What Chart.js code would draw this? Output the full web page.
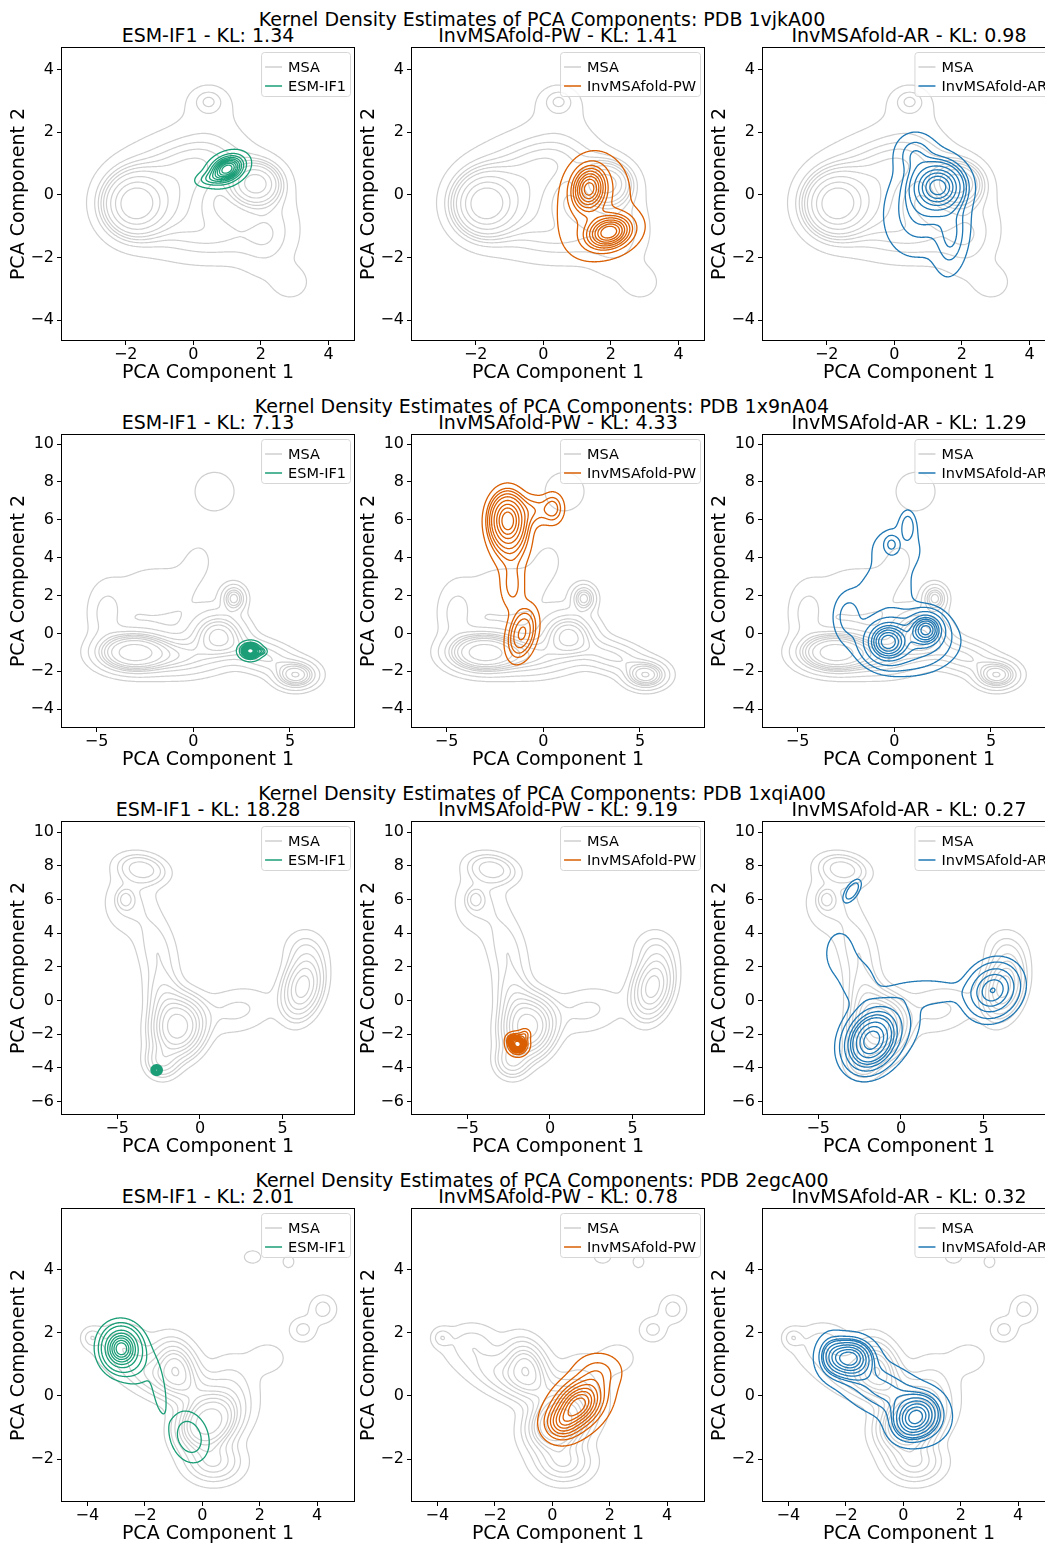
<!DOCTYPE html>
<html>
<head>
<meta charset="utf-8">
<script src="https://cdn.jsdelivr.net/npm/chart.js@4.4.1/dist/chart.umd.min.js"></script>
<style>
  html, body { margin: 0; padding: 0; background: #fff; overflow: hidden; }
  body { width: 1045px; height: 1544px; position: relative; font-family: "DejaVu Sans", sans-serif; }
  canvas { position: absolute; }
  .title { position: absolute; font-size: 19px; line-height: 19px; height: 19px; white-space: nowrap; color: #000; transform: translateX(-50%); }
</style>
</head>
<body>
<script>
const proteins = ['1vjkA00', '1x9nA04', '1xqiA00', '2egcA00'];
const models = ['ESM-IF1', 'InvMSAfold-PW', 'InvMSAfold-AR'];
const modelColors = ['#1b9e77', '#d95f02', '#1f78b4'];
const klScores = [
  [1.34, 1.41, 0.98],
  [7.13, 4.33, 1.29],
  [18.28, 9.19, 0.27],
  [2.01, 0.78, 0.32]
];
const xLimits = [[-3.885, 4.755], [-6.79, 8.31], [-8.34, 9.31], [-4.88, 5.28]];
const yLimits = [[-4.636, 4.682], [-4.94, 10.48], [-6.75, 10.6], [-3.33, 5.92]];
const xTicks = [[-2, 0, 2, 4], [-5, 0, 5], [-5, 0, 5], [-4, -2, 0, 2, 4]];
const yTicks = [[-4, -2, 0, 2, 4], [-4, -2, 0, 2, 4, 6, 8, 10], [-6, -4, -2, 0, 2, 4, 6, 8, 10], [-2, 0, 2, 4]];
// iso-proportion levels of the kde contours
const isoLevels = [0.05, 0.156, 0.261, 0.367, 0.472, 0.578, 0.683, 0.789, 0.894];

// density blobs: [centre x, centre y, spread x, spread y, correlation, weight]
const msa1vjk = [
  [-1.75, -0.3, 0.55, 0.6, 0, 0.24],
  [-0.7, 0.0, 1.0, 0.95, 0, 0.22],
  [1.85, 0.35, 0.45, 0.42, 0, 0.11],
  [0.4, 1.1, 0.9, 0.6, 0, 0.08],
  [2.3, -1.2, 0.55, 1.0, 0.2, 0.05],
  [0.8, -1.3, 1.1, 0.6, 0, 0.08],
  [0.5, 2.6, 0.7, 0.6, 0, 0.02],
  [0.45, 3.0, 0.32, 0.28, 0, 0.01],
  [2.9, -2.8, 0.35, 0.35, 0, 0.01]
];
const esm1vjk = [[1.0, 0.82, 0.3, 0.26, 0.3, 0.9], [0.45, 0.5, 0.25, 0.15, 0.2, 0.08]];
const pw1vjk = [[1.35, 0.2, 0.3, 0.42, 0.1, 0.36], [1.95, -1.2, 0.4, 0.32, 0.2, 0.4], [1.5, -0.4, 0.65, 0.95, 0.25, 0.24]];
const ar1vjk = [[1.3, 0.25, 0.38, 0.38, 0, 0.5], [1.7, -1.4, 0.3, 0.7, 0.2, 0.08], [0.9, -0.3, 0.65, 0.9, 0.2, 0.3], [0.6, 1.3, 0.35, 0.4, 0, 0.05]];

const msa1x9n = [
  [-3.1, -1.0, 1.0, 0.55, 0, 0.30],
  [1.3, -0.1, 0.8, 0.7, 0, 0.14],
  [2.1, 1.85, 0.35, 0.4, 0, 0.03],
  [5.3, -2.2, 0.6, 0.4, 0, 0.07],
  [3.5, -1.2, 1.2, 0.6, -0.5, 0.08],
  [-0.8, -1.2, 1.3, 0.6, 0, 0.12],
  [-2.0, 2.2, 1.6, 1.1, 0, 0.045],
  [1.1, 7.5, 0.8, 0.8, 0, 0.02],
  [0.3, 4.0, 0.8, 1.0, 0, 0.012],
  [-4.5, 1.0, 0.6, 1.0, 0, 0.03]
];
const esm1x9n = [[2.95, -0.92, 0.3, 0.24, 0, 0.95], [3.55, -0.95, 0.15, 0.12, 0, 0.05]];
const pw1x9n = [
  [-1.85, 6.0, 0.5, 0.75, 0, 0.55],
  [-1.7, 4.8, 0.6, 0.9, 0, 0.12],
  [0.5, 6.6, 0.35, 0.5, 0, 0.04],
  [-1.1, 0.0, 0.45, 0.8, 0.3, 0.15],
  [-1.6, 2.5, 0.4, 0.8, 0, 0.05],
  [-0.5, 6.5, 0.5, 0.5, 0, 0.04]
];
const ar1x9n = [
  [-0.35, -0.45, 0.55, 0.55, 0, 0.3],
  [1.65, 0.2, 0.45, 0.45, 0, 0.2],
  [0.6, -0.4, 1.3, 0.85, 0, 0.3],
  [0.1, 4.4, 1.1, 1.0, 0, 0.05],
  [-0.5, 2.2, 1.0, 0.8, 0, 0.04],
  [-2.4, 0.9, 0.5, 0.8, 0, 0.03],
  [-0.15, 4.7, 0.2, 0.25, 0, 0.008],
  [0.7, 5.7, 0.25, 0.5, 0, 0.01]
];

const msa1xqi = [
  [-1.3, -1.6, 0.85, 0.95, 0.1, 0.36],
  [-2.0, -0.3, 0.7, 1.2, -0.3, 0.08],
  [6.2, 0.8, 0.7, 1.05, 0.25, 0.18],
  [-3.5, 7.8, 0.9, 0.55, -0.2, 0.05],
  [-4.5, 6.0, 0.3, 0.35, 0, 0.008],
  [-4.3, 5.8, 1.0, 1.2, 0, 0.045],
  [-2.6, 3.0, 0.8, 1.4, -0.3, 0.05],
  [2.2, -0.6, 1.5, 0.9, 0.2, 0.05],
  [-2.3, -3.6, 0.6, 0.6, 0, 0.04],
  [6.3, 3.0, 0.8, 0.8, 0, 0.025]
];
const esm1xqi = [[-2.62, -4.14, 0.14, 0.13, 0, 1]];
const pw1xqi = [[-1.95, -2.6, 0.33, 0.33, 0, 0.88], [-1.5, -2.0, 0.2, 0.2, 0, 0.06], [-2.35, -2.3, 0.2, 0.2, 0, 0.06]];
const ar1xqi = [
  [-1.8, -2.4, 0.75, 0.85, 0.2, 0.45],
  [5.55, 0.6, 0.85, 0.85, 0.15, 0.2],
  [-2.95, 6.5, 0.3, 0.38, 0.6, 0.008],
  [-3.7, 2.8, 0.8, 1.2, 0, 0.025],
  [1.8, 0.5, 1.4, 0.5, 0, 0.025],
  [-1.2, -1.8, 1.2, 1.2, 0.3, 0.15],
  [-2.5, 1.0, 0.7, 0.9, 0, 0.02]
];

const msa2egc = [
  [0.2, -0.85, 0.6, 0.5, 0.2, 0.30],
  [-0.9, 1.0, 0.45, 0.5, -0.2, 0.10],
  [-1.2, 0.5, 1.1, 0.55, -0.6, 0.15],
  [-3.85, 1.85, 0.22, 0.2, 0, 0.006],
  [-2.8, 1.7, 0.6, 0.4, 0, 0.03],
  [4.2, 2.75, 0.3, 0.28, 0, 0.012],
  [3.5, 2.1, 0.3, 0.25, 0, 0.01],
  [2.3, 1.2, 0.45, 0.35, 0, 0.012],
  [1.75, 4.4, 0.22, 0.15, 0, 0.003],
  [3.0, 4.25, 0.16, 0.16, 0, 0.002],
  [0.4, -2.1, 0.6, 0.4, 0, 0.08],
  [1.0, 0.2, 0.6, 0.7, 0, 0.06]
];
const esm2egc = [[-2.82, 1.5, 0.32, 0.33, 0, 0.6], [-2.6, 1.3, 0.5, 0.5, -0.3, 0.14], [-1.5, 0.2, 0.18, 0.55, -0.5, 0.022], [-0.45, -1.3, 0.38, 0.45, -0.2, 0.1]];
const pw2egc = [[0.9, -0.3, 0.55, 0.5, 0.35, 0.8], [1.6, 0.8, 0.5, 0.35, 0, 0.1], [0.3, -0.9, 0.35, 0.3, 0, 0.1]];
const ar2egc = [[-1.85, 1.2, 0.45, 0.35, 0, 0.3], [0.4, -0.7, 0.45, 0.4, 0.2, 0.3], [-0.7, 0.2, 1.0, 0.6, -0.5, 0.28], [-2.5, 1.3, 0.3, 0.4, 0, 0.06], [0.9, -0.8, 0.5, 0.5, 0, 0.06]];

const msaBlobs = [msa1vjk, msa1x9n, msa1xqi, msa2egc];
const modelBlobs = [
  [esm1vjk, pw1vjk, ar1vjk],
  [esm1x9n, pw1x9n, ar1x9n],
  [esm1xqi, pw1xqi, ar1xqi],
  [esm2egc, pw2egc, ar2egc]
];

const colLeft = [62, 412, 763];
const rowTop = [48, 435, 822, 1209];
const FONT = '"DejaVu Sans"';
Chart.defaults.font.family = FONT;

function density(blobs, x, y) {
  let s = 0;
  for (const [mx, my, sx, sy, r, w] of blobs) {
    const dx = (x - mx) / sx, dy = (y - my) / sy, q = 1 - r * r;
    s += w / (sx * sy * Math.sqrt(q)) * Math.exp(-(dx * dx - 2 * r * dx * dy + dy * dy) / (2 * q));
  }
  return s;
}

// marching squares: which cell edges a contour crosses, per corner code
// edges 0 bottom, 1 right, 2 top, 3 left
const CASES = [[], [[3, 0]], [[0, 1]], [[3, 1]], [[1, 2]], [[3, 0], [1, 2]], [[0, 2]], [[3, 2]],
  [[2, 3]], [[0, 2]], [[0, 1], [2, 3]], [[1, 2]], [[1, 3]], [[0, 1]], [[0, 3]], []];

function traceLevel(g, xs, ys, lev, out) {
  const N = xs.length - 1;
  const pts = new Map(), adj = new Map(), segs = [];
  const edgePoint = (id, ax, ay, av, bx, by, bv) => {
    if (!pts.has(id)) {
      const t = (lev - av) / (bv - av);
      pts.set(id, { x: ax + (bx - ax) * t, y: ay + (by - ay) * t });
    }
    return id;
  };
  for (let j = 0; j < N; j++) {
    for (let i = 0; i < N; i++) {
      const a = g[j][i], b = g[j][i + 1], c = g[j + 1][i + 1], d = g[j + 1][i];
      const code = (a > lev ? 1 : 0) | (b > lev ? 2 : 0) | (c > lev ? 4 : 0) | (d > lev ? 8 : 0);
      if (code === 0 || code === 15) continue;
      const E = [
        () => edgePoint('h' + i + '_' + j, xs[i], ys[j], a, xs[i + 1], ys[j], b),
        () => edgePoint('v' + (i + 1) + '_' + j, xs[i + 1], ys[j], b, xs[i + 1], ys[j + 1], c),
        () => edgePoint('h' + i + '_' + (j + 1), xs[i], ys[j + 1], d, xs[i + 1], ys[j + 1], c),
        () => edgePoint('v' + i + '_' + j, xs[i], ys[j], a, xs[i], ys[j + 1], d)
      ];
      for (const [p, q] of CASES[code]) segs.push([E[p](), E[q]()]);
    }
  }
  segs.forEach(([p, q], k) => {
    for (const id of [p, q]) {
      if (!adj.has(id)) adj.set(id, []);
      adj.get(id).push(k);
    }
  });
  const used = new Array(segs.length).fill(false);
  const follow = (cur, line, atEnd) => {
    for (;;) {
      const nk = adj.get(cur).find(s => !used[s]);
      if (nk === undefined) break;
      used[nk] = true;
      cur = segs[nk][0] === cur ? segs[nk][1] : segs[nk][0];
      if (atEnd) line.push(cur); else line.unshift(cur);
    }
  };
  for (let k = 0; k < segs.length; k++) {
    if (used[k]) continue;
    used[k] = true;
    const line = [segs[k][0], segs[k][1]];
    follow(segs[k][1], line, true);
    follow(segs[k][0], line, false);
    line.forEach(id => out.push(pts.get(id)));
    out.push({ x: null, y: null });
  }
}

function contourPoints(blobs) {
  const N = 170;
  let x0 = Infinity, x1 = -Infinity, y0 = Infinity, y1 = -Infinity;
  blobs.forEach(([mx, my, sx, sy]) => {
    x0 = Math.min(x0, mx - 4 * sx); x1 = Math.max(x1, mx + 4 * sx);
    y0 = Math.min(y0, my - 4 * sy); y1 = Math.max(y1, my + 4 * sy);
  });
  const xs = [], ys = [];
  for (let i = 0; i <= N; i++) {
    xs.push(x0 + (x1 - x0) * i / N);
    ys.push(y0 + (y1 - y0) * i / N);
  }
  const g = ys.map(y => xs.map(x => density(blobs, x, y)));
  const sorted = g.flat().sort((a, b) => b - a);
  const total = sorted.reduce((a, b) => a + b, 0);
  const cum = [];
  let acc = 0;
  for (const v of sorted) { acc += v; cum.push(acc / total); }
  const out = [];
  isoLevels.forEach(p => {
    const idx = cum.findIndex(c => c >= 1 - p);
    traceLevel(g, xs, ys, sorted[Math.max(0, idx)], out);
  });
  return out;
}

const fmt = v => (v < 0 ? '\u2212' + Math.abs(v) : String(v));

const frame = {
  id: 'frame',
  afterDatasetsDraw(chart) {
    const { ctx, chartArea: a } = chart;
    ctx.save();
    ctx.strokeStyle = '#000';
    ctx.lineWidth = 1;
    ctx.strokeRect(a.left - 0.5, a.top - 0.5, a.right - a.left + 1, a.bottom - a.top + 1);
    ctx.restore();
  }
};

const legendBox = {
  id: 'legendBox',
  afterDraw(chart) {
    const { ctx, chartArea: a } = chart;
    const items = chart.data.datasets;
    ctx.save();
    ctx.font = '14.5px ' + FONT;
    const textW = Math.max(...items.map(d => ctx.measureText(d.label).width));
    const w = 4 + 17 + 6 + textW + 4, h = 44;
    const x = a.right - 4 - w, y = a.top + 4;
    ctx.beginPath();
    ctx.roundRect(x + 0.5, y + 0.5, w, h, 3);
    ctx.fillStyle = 'rgba(255,255,255,0.8)';
    ctx.fill();
    ctx.strokeStyle = '#d6d6d6';
    ctx.lineWidth = 1;
    ctx.stroke();
    items.forEach((d, i) => {
      const cy = y + 15 + i * 19;
      ctx.beginPath();
      ctx.moveTo(x + 4, cy);
      ctx.lineTo(x + 21, cy);
      ctx.strokeStyle = d.borderColor;
      ctx.lineWidth = 1.5;
      ctx.stroke();
      ctx.fillStyle = '#000';
      ctx.textBaseline = 'middle';
      ctx.fillText(d.label, x + 27, cy + 1);
    });
    ctx.restore();
  }
};

function addText(text, cx, top) {
  const el = document.createElement('div');
  el.className = 'title';
  el.textContent = text;
  el.style.left = cx + 'px';
  el.style.top = top + 'px';
  document.body.appendChild(el);
}

function axis(r, horizontal) {
  return {
    type: 'linear',
    min: horizontal ? xLimits[r][0] : yLimits[r][0],
    max: horizontal ? xLimits[r][1] : yLimits[r][1],
    afterBuildTicks: s => { s.ticks = (horizontal ? xTicks[r] : yTicks[r]).map(v => ({ value: v })); },
    afterFit: s => { if (horizontal) s.height = 50; else s.width = 62; },
    ticks: {
      color: '#000', font: { size: 16 }, padding: horizontal ? 0 : 3,
      autoSkip: false, maxRotation: 0, callback: fmt
    },
    grid: { drawOnChartArea: false, tickLength: 5, color: '#000', tickWidth: 1 },
    border: { display: false },
    title: {
      display: true, text: horizontal ? 'PCA Component 1' : 'PCA Component 2',
      color: '#000', font: { size: 19 },
      padding: horizontal ? { top: 0, bottom: 6 } : { top: 8, bottom: 0 }
    }
  };
}

proteins.forEach((pdb, r) => {
  const msaPts = contourPoints(msaBlobs[r]);
  addText('Kernel Density Estimates of PCA Components: PDB ' + pdb, 542, rowTop[r] - 38);
  models.forEach((model, c) => {
    addText(model + ' - KL: ' + klScores[r][c].toFixed(2), colLeft[c] + 146, rowTop[r] - 22);
    const canvas = document.createElement('canvas');
    canvas.width = 358;
    canvas.height = 390;
    canvas.style.left = (colLeft[c] - 62) + 'px';
    canvas.style.top = (rowTop[r] - 48) + 'px';
    document.body.appendChild(canvas);
    new Chart(canvas, {
      type: 'scatter',
      data: {
        datasets: [
          { label: 'MSA', data: msaPts, borderColor: '#cfcfcf', borderWidth: 1.2, order: 2 },
          { label: model, data: contourPoints(modelBlobs[r][c]), borderColor: modelColors[c], borderWidth: 1.3, order: 1 }
        ].map(d => Object.assign(d, { showLine: true, pointRadius: 0, spanGaps: false, tension: 0.1 }))
      },
      options: {
        responsive: false,
        animation: false,
        events: [],
        layout: { padding: { top: 48, right: 4, left: 0, bottom: 0 } },
        plugins: { legend: { display: false }, tooltip: { enabled: false } },
        scales: { x: axis(r, true), y: axis(r, false) }
      },
      plugins: [frame, legendBox]
    });
  });
});
</script>
</body>
</html>
